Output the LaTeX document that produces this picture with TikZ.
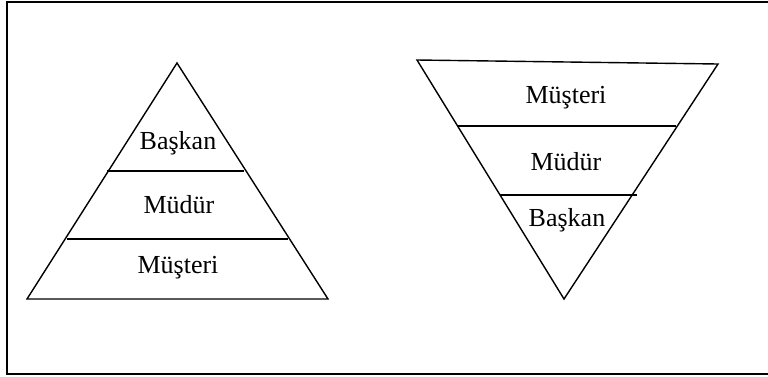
\documentclass[tikz,border=0pt]{standalone}
\usepackage{fontspec}
\setmainfont{Liberation Serif}
\begin{document}
\begin{tikzpicture}[x=1pt,y=-1pt,
  frame/.style={line width=2pt},
  edge/.style={line width=1.4pt, line join=miter},
  lbl/.style={font=\fontsize{26}{30}\selectfont, inner sep=0pt, anchor=center}]
\useasboundingbox (0,0) rectangle (768,376);
\begin{scope}
\clip (0,0) rectangle (768,376);
\draw[frame] (7,2) rectangle (772,374);
\end{scope}
% left pyramid
\coordinate (la) at (177,63);
\coordinate (lbl) at (27,299);
\coordinate (lbr) at (328,299);
\draw[edge] (la) -- (lbr) -- (lbl) -- cycle;
\coordinate (l1a) at (107,171);
\coordinate (l1b) at (244,171);
\coordinate (l2a) at (67,239);
\coordinate (l2b) at (288,239);
\draw[edge] (l1a) -- (l1b);
\draw[edge] (l2a) -- (l2b);
\node[lbl] (lbaskan) at (178,143) {Başkan};
\node[lbl] (lmudur) at (179,205) {Müdür};
\node[lbl] (lmusteri) at (178,268) {Müşteri};
% right inverted pyramid
\coordinate (rtl) at (417,60);
\coordinate (rtr) at (718,64);
\coordinate (rap) at (564,299);
\draw[edge] (rtl) -- (rtr) -- (rap) -- cycle;
\coordinate (r1a) at (458,126);
\coordinate (r1b) at (676,126);
\coordinate (r2a) at (500,195);
\coordinate (r2b) at (637,195);
\draw[edge] (r1a) -- (r1b);
\draw[edge] (r2a) -- (r2b);
\node[lbl] (rmusteri) at (566,98) {Müşteri};
\node[lbl] (rmudur) at (566,162) {Müdür};
\node[lbl] (rbaskan) at (567,220) {Başkan};
\end{tikzpicture}
\end{document}
